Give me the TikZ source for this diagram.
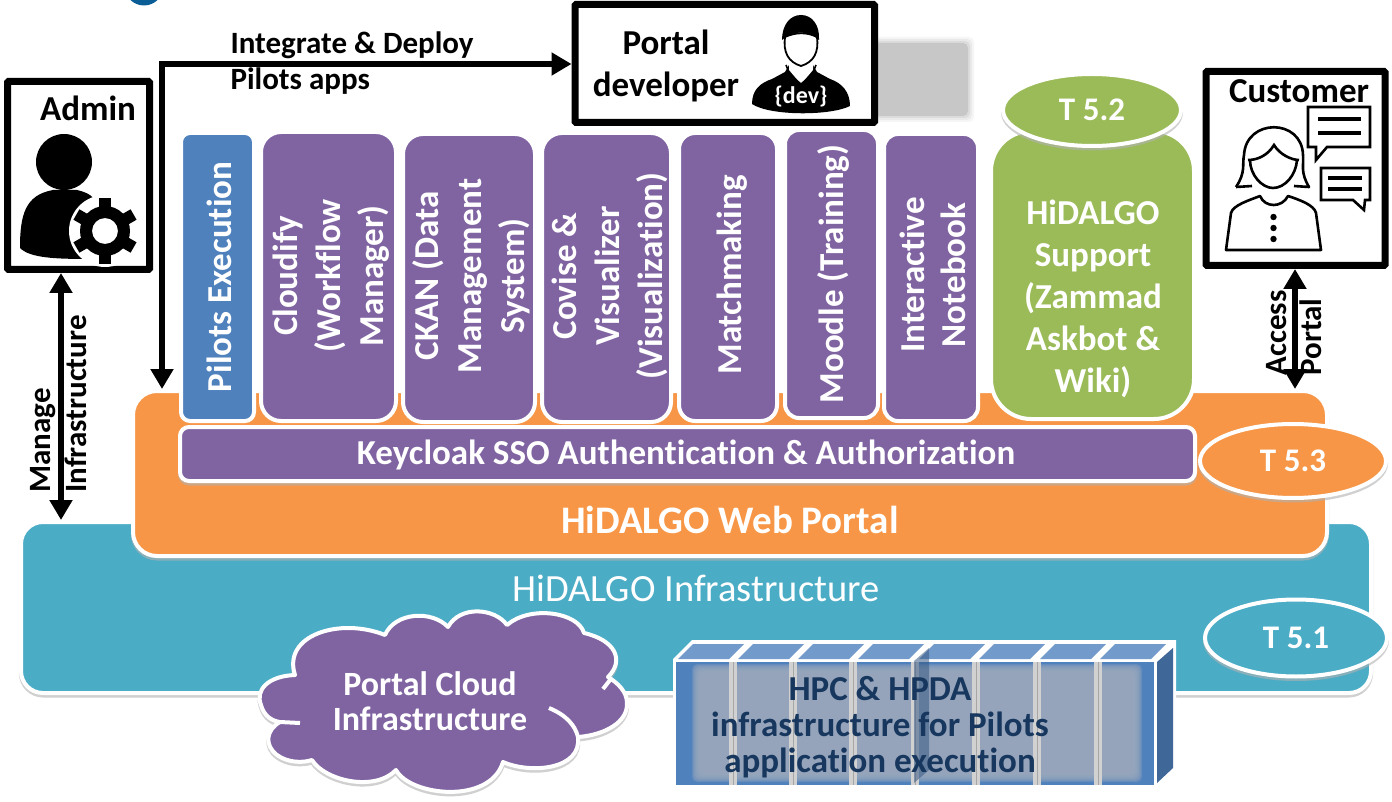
\documentclass[tikz,border=0pt]{standalone}
\usepackage{fontspec}
\setmainfont[Ligatures=NoCommon]{Carlito}
\usetikzlibrary{arrows.meta,shapes.geometric,calc}
\definecolor{purp}{HTML}{8064A2}
\definecolor{bluec}{HTML}{4F81BD}
\definecolor{grn}{HTML}{9BBB59}
\definecolor{org}{HTML}{F79646}
\definecolor{teal2}{HTML}{4BACC6}
\definecolor{navy}{HTML}{17375E}
\definecolor{logoblue}{HTML}{0B5E95}
\definecolor{rackgrey}{HTML}{98A7BB}
\newcommand{\fs}[1]{\fontsize{#1}{#1}\selectfont}
\tikzset{
  x=1pt,y=-1pt,
  panel/.style={draw=white,line width=4pt,rounded corners=#1},
  panel/.default=20pt,
  vlabel/.style={rotate=90,align=center,text=white,font=\fs{35}\bfseries},
  hlabel/.style={align=center,text=white,font=\fs{35}\bfseries},
  blabel/.style={align=left,text=black,font=\fs{31}\bfseries},
  framebox/.style={draw=black,line width=7pt,fill=white,rounded corners=1pt,inner sep=0pt},
  task/.style={ellipse,draw=white,line width=4pt,inner sep=0pt,text=white,font=\fs{33}\bfseries},
  flowboth/.style={line width=6.5pt,{Stealth[length=20pt,width=22pt,inset=0pt]}-{Stealth[length=20pt,width=22pt,inset=0pt]}},
  shadowed/.style={preaction={draw=black!30,line width=4pt,opacity=.6,transform canvas={yshift=-2.5pt}}},
}
\newcommand{\rbox}[6]{% name, x1,y1,x2,y2, style
  \node[#6,minimum width=#4pt-#2pt,minimum height=#5pt-#3pt,inner sep=0pt] (#1) at ({(#2+#4)/2},{(#3+#5)/2}) {};}
\begin{document}
\begin{tikzpicture}
\useasboundingbox (0,0) rectangle (1392,802);
\fill[white] (0,0) rectangle (1392,802);
% cropped logo at the top
\begin{scope}
\clip (0,0) rectangle (1392,802);
\fill[logoblue] (144,-14) circle (19.5);
\end{scope}
% infrastructure
\rbox{infra}{21}{522}{1371}{693}{rectangle,panel=22pt,fill=teal2,shadowed}
\node[text=white,font=\fs{38.5}] (infralabel) at (696,588) {HiDALGO Infrastructure};
% web portal
\rbox{portal}{133}{391}{1327}{556}{rectangle,panel=24pt,fill=org,shadowed}
\node[hlabel,font=\fs{39}\bfseries] (portallabel) at (730,520) {HiDALGO Web Portal};
% service columns
\rbox{pilots}{181}{133}{254}{421}{rectangle,panel=9pt,fill=bluec}
\node[vlabel] at (219,277) {Pilots Execution};
\rbox{cloudify}{261}{132}{396}{421}{rectangle,panel=20pt,fill=purp}
\node[vlabel] at (331,276) {Cloudify\\[8pt](Workflow\\[8pt]Manager)};
\rbox{ckan}{403}{134}{535}{422}{rectangle,panel=20pt,fill=purp}
\node[vlabel] at (471,276) {CKAN (Data\\[8pt]Management\\[8pt]System)};
\rbox{covise}{542}{133}{671}{422}{rectangle,panel=20pt,fill=purp}
\node[vlabel] at (610,276) {Covise \&\\[8pt]Visualizer\\[8pt](Visualization)};
\rbox{match}{679}{133}{777}{421}{rectangle,panel=16pt,fill=purp}
\node[vlabel] at (732,275) {Matchmaking};
\rbox{moodle}{785}{130}{878}{418}{rectangle,panel=14pt,fill=purp}
\node[vlabel] at (833,274) {Moodle (Training)};
\rbox{notebook}{884}{134}{978}{421}{rectangle,panel=14pt,fill=purp}
\node[vlabel] at (933,275) {Interactive\\[6pt]Notebook};
\rbox{support}{991}{131}{1194}{419}{rectangle,panel=40pt,fill=grn}
\node[hlabel] at (1093,299) {HiDALGO\\[7pt]Support\\[7pt](Zammad\\[7pt]Askbot \&\\[7pt]Wiki)};
\rbox{keycloak}{180}{427}{1195}{481}{rectangle,panel=9pt,fill=purp,shadowed}
\node[hlabel] at (686,455) {Keycloak SSO Authentication \& Authorization};
% task ellipses
\node[task,fill=grn,minimum width=178pt,minimum height=72pt,shadowed] (t52) at (1092,110) {T 5.2};
\node[task,fill=org,minimum width=186pt,minimum height=74pt,shadowed] (t53) at (1293,461) {T 5.3};
\node[task,fill=teal2,minimum width=182pt,minimum height=77pt,shadowed] (t51) at (1296,638) {T 5.1};
% cloud
\path[draw=white,line width=4pt,fill=purp,line join=round,shadowed]
  (295,675) .. controls (268,676) and (255,690) .. (261,705)
  .. controls (264,716) and (272,721) .. (280,722)
  .. controls (266,730) and (264,745) .. (277,755)
  .. controls (288,763) and (303,763) .. (312,760)
  .. controls (325,781) and (375,792) .. (396,770)
  .. controls (410,796) and (490,805) .. (503,762)
  .. controls (530,774) and (582,770) .. (578,737)
  .. controls (605,735) and (628,722) .. (627,703)
  .. controls (627,692) and (618,683) .. (608,677)
  .. controls (625,660) and (615,640) .. (584,633)
  .. controls (578,612) and (530,605) .. (507,625)
  .. controls (495,608) and (460,605) .. (448,627)
  .. controls (432,610) and (395,612) .. (385,635)
  .. controls (340,617) and (282,635) .. (295,675) -- cycle;
\draw[white,line width=4pt] (549,708) .. controls (566,715) and (575,725) .. (578,737);
\draw[white,line width=4pt] (603,689) -- (610,680);
\draw[white,line width=4pt] (280,722) -- (300,723);
\node[hlabel,font=\fs{34}\bfseries] (cloudlabel) at (430,701) {Portal Cloud\\[1pt]Infrastructure};
% HPC rack
\fill[white] (673,659) -- (692,640) -- (1176,640) -- (1176,768) -- (1157,788) -- (673,788) -- cycle;
\fill[bluec] (676,662) rectangle (1154,785);
\fill[black!20!bluec] (1157,662) -- (1173,648) -- (1173,768) -- (1157,783) -- cycle;
\foreach \xa in {678,738,798,858,919,979,1040,1100}{
  \fill[bluec!80!white] (\xa,659) -- (\xa+15,644) -- (\xa+66,644) -- (\xa+51,659) -- cycle;
}
\foreach \c in {0,1,...,11}{
  \fill[rackgrey,opacity=.3,rounded corners=5pt] (692+\c,664+\c) rectangle (1142-\c,782-\c);
}
\foreach \xa in {729,789,849,911,972,1033,1094}{
  \fill[black!18!white] (\xa,662) rectangle (\xa+8,785);
  \fill[black!35!white] (\xa+3.5,662) rectangle (\xa+4.5,785);
}
\fill[black!30!bluec,opacity=.55] (914,661) -- (929,648) -- (929,770) -- (914,783) -- cycle;
\node[align=center,text=navy,font=\fs{35}\bfseries] (hpclabel) at (880,727) {HPC \& HPDA\\[1pt]infrastructure for Pilots\\[1pt]application execution};
% grey block behind developer
\foreach \c/\o in {0/.15,2/.25,4/.4,6/1}{
  \fill[black!22!white,opacity=\o,rounded corners=5pt] (800,37+\c) rectangle (974-\c,122-\c);
}
% actors
\rbox{admin}{7.5}{81.5}{149.5}{269.5}{framebox}
\rbox{dev}{575}{4.5}{874.5}{122.5}{framebox}
\rbox{customer}{1206}{71.5}{1385}{265.5}{framebox}
\node[font=\fs{35}\bfseries] (adminlabel) at (88,108) {Admin};
\node[font=\fs{35}\bfseries,align=center] (devlabel) at (666,66) {Portal\\[7pt]developer};
\node[font=\fs{35}\bfseries] (customerlabel) at (1299,91) {Customer};
% admin icon
\fill[black] (64,162) circle (28);
\fill[black] (20,248) .. controls (20,215) and (25,195) .. (53,190) -- (77,190) .. controls (85,192) and (90,194) .. (93,198)
  -- (90,259) .. controls (55,259) and (30,258) .. (20,248) -- cycle;
\fill[white] (105,231) circle (36);
\foreach \a in {0,60,...,300}{
  \fill[black,rotate around={\a:(105,231)}] (99,198) rectangle (111,215);
}
\fill[black,even odd rule] (105,231) circle (25) (105,231) circle (13);
% developer icon
\fill[black] (752,104) .. controls (752,90) and (760,83) .. (772,79) -- (785,72) -- (789,65) -- (813,65) -- (817,72) -- (830,79)
  .. controls (842,83) and (850,92) .. (850,106) .. controls (830,116) and (770,116) .. (752,104) -- cycle;
\fill[white] (789,60) -- (813,60) -- (813,70) -- (801,84) -- (789,70) -- cycle;
\draw[black,line width=1.6pt] (786,65) -- (790,75) -- (801,84) -- (812,75) -- (816,65);
\draw[black,line width=1.8pt,fill=white] (785,37) .. controls (783,52) and (788,62) .. (801,66) .. controls (814,62) and (819,52) .. (817,37) .. controls (807,32) and (796,32) .. (785,37) -- cycle;
\fill[black] (782,40) .. controls (782,25) and (790,15) .. (801,15) .. controls (812,15) and (820,25) .. (819,40) .. controls (808,30) and (794,30) .. (782,40) -- cycle;
\node[text=white,font=\fs{24}\bfseries] (devtag) at (801,97) {\{dev\}};
% customer icon
\draw[black,line width=2.6pt,line join=round] (1236,187) .. controls (1246,172) and (1242,165) .. (1244,155) .. controls (1246,118) and (1302,118) .. (1303,155) .. controls (1304,165) and (1300,172) .. (1309,187) -- (1294,186) ;
\draw[black,line width=2.6pt,line join=round] (1236,187) -- (1252,186);
\draw[black,line width=2.6pt] (1248,160) .. controls (1258,160) and (1268,155) .. (1274,145) .. controls (1280,155) and (1292,160) .. (1299,160);
\draw[black,line width=2.6pt] (1250,160) .. controls (1250,175) and (1262,188) .. (1273,188) .. controls (1285,188) and (1296,175) .. (1297,160);
\draw[black,line width=2.6pt,line join=round] (1226,250) -- (1231,213) .. controls (1233,205) and (1250,200) .. (1260,196) .. controls (1265,208) and (1282,208) .. (1288,196) .. controls (1300,200) and (1314,205) .. (1316,213) -- (1321,250) -- cycle;
\foreach \yy in {217,228,239}{\fill[black] (1273.5,\yy) circle (3.2);}
\draw[black,line width=2.6pt,line join=miter] (1308,107) -- (1370,107) -- (1370,147) -- (1327,147) -- (1316,160) -- (1316,147) -- (1308,147) -- cycle;
\draw[black,line width=3.2pt] (1318,119) -- (1361,119) (1318,133) -- (1361,133);
\draw[black,line width=2.6pt,line join=miter] (1321,168) -- (1370,168) -- (1370,200) -- (1365,200) -- (1364,210) -- (1353,200) -- (1321,200) -- cycle;
\draw[black,line width=3.2pt] (1328,178) -- (1362,178) (1328,189) -- (1362,189);
% connectors
\coordinate (ax) at (61,0);
\coordinate (cx) at (1295,0);
\coordinate (ix) at (162,64);
\draw[flowboth] (ax |- admin.south) -- (ax |- infra.north);
\draw[flowboth] (cx |- customer.south) -- (cx |- portal.north);
\draw[flowboth,line join=miter] (ix -| dev.west) -- (ix) -- (ix |- portal.north);
% connector labels
\node[blabel,anchor=west] (intlabel) at (227,45) {Integrate \& Deploy};
\node[blabel,anchor=west] (pilotslabel) at (227,81) {Pilots apps};
\node[blabel,rotate=90,align=left] (managelabel) at (59,404) {Manage\\[5pt]Infrastructure};
\node[blabel,rotate=90,align=left] (accesslabel) at (1294,333) {Access\\[4pt]Portal};
\end{tikzpicture}
\end{document}
